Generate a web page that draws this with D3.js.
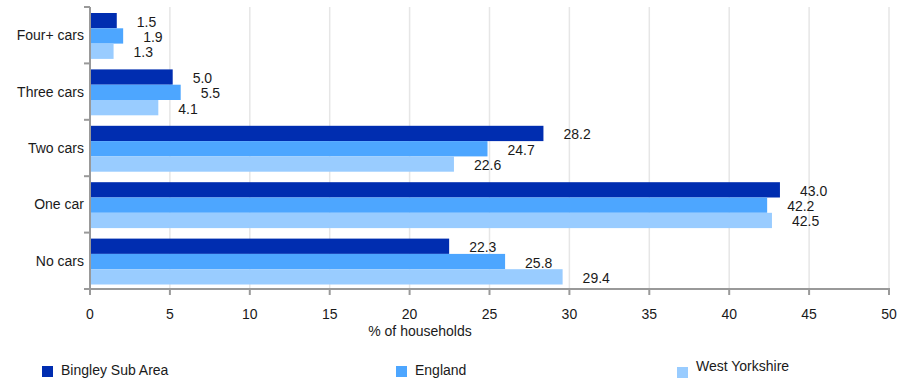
<!DOCTYPE html>
<html><head><meta charset="utf-8">
<script src="https://cdn.jsdelivr.net/npm/d3@7"></script>
<style>body{margin:0;background:#fff}svg{display:block;font-family:Arial,"Liberation Sans",sans-serif}</style>
</head><body><svg id="c" width="901" height="380"></svg>
<script>
const categories = ["Four+ cars","Three cars","Two cars","One car","No cars"];
const seriesNames = ["Bingley Sub Area","England","West Yorkshire"];
const bingley = [1.5, 5.0, 28.2, 43.0, 22.3];
const england = [1.9, 5.5, 24.7, 42.2, 25.8];
const westYorkshire = [1.3, 4.1, 22.6, 42.5, 29.4];
const xTicks = [0,5,10,15,20,25,30,35,40,45,50];
const colors = ["#002db0","#4da6ff","#99ccff"];
const seriesValues = [bingley, england, westYorkshire];

const svg = d3.select("#c");
const x = d3.scaleLinear().domain([0,50]).range([90,889]);
const xBar = d3.scaleLinear().domain([0,50]).range([92.8,891.8]);
const y = d3.scaleBand().domain(categories).range([7,289]).padding(0);
const sub = d3.scaleBand().domain(seriesNames).range([6, y.bandwidth()-4.5]).padding(0);

// gridlines
svg.append("g").selectAll("line").data(xTicks.slice(1)).join("line")
  .attr("x1",d=>x(d)).attr("x2",d=>x(d)).attr("y1",7).attr("y2",289)
  .attr("stroke","#e6e6e6").attr("stroke-width",1.5);

// bars
categories.forEach((c,i)=>{
  seriesNames.forEach((s,j)=>{
    const v = seriesValues[j][i];
    const y0 = y(c)+sub(s);
    svg.append("rect").attr("x",x(0)+1).attr("y",y0)
      .attr("width",xBar(v)-x(0)-1).attr("height",sub.bandwidth())
      .attr("fill",colors[j]);
    svg.append("text").attr("x",xBar(v)+20).attr("y",y0+sub.bandwidth()/2+6)
      .attr("font-size",14).attr("fill","#1a1a1a").text(v.toFixed(1));
  });
});

// y axis
const ya = svg.append("g");
ya.append("line").attr("x1",90).attr("x2",90).attr("y1",7).attr("y2",290)
  .attr("stroke","#999").attr("stroke-width",2);
const bounds = categories.map(c=>y(c)).concat([y.range()[1]]);
ya.selectAll("line.t").data(bounds).join("line").attr("class","t")
  .attr("x1",84).attr("x2",90).attr("y1",d=>d).attr("y2",d=>d)
  .attr("stroke","#999").attr("stroke-width",2);
ya.selectAll("text").data(categories).join("text")
  .attr("x",84).attr("y",d=>y(d)+y.bandwidth()/2+5)
  .attr("text-anchor","end").attr("font-size",14).attr("fill","#1a1a1a").text(d=>d);

// x axis
const xa = svg.append("g");
xa.append("line").attr("x1",89).attr("x2",890).attr("y1",289).attr("y2",289)
  .attr("stroke","#999").attr("stroke-width",2);
xa.selectAll("line.t").data(xTicks).join("line").attr("class","t")
  .attr("x1",d=>x(d)).attr("x2",d=>x(d)).attr("y1",289).attr("y2",295)
  .attr("stroke","#999").attr("stroke-width",2);
xa.selectAll("text").data(xTicks).join("text")
  .attr("x",d=>x(d)).attr("y",319).attr("text-anchor","middle")
  .attr("font-size",14).attr("fill","#1a1a1a").text(d=>d);
svg.append("text").attr("x",420).attr("y",336).attr("text-anchor","middle")
  .attr("font-size",14).attr("fill","#1a1a1a").text("% of households");

// legend
const legPos = [{x:42,y:366,ty:375},{x:396,y:366,ty:375},{x:677,y:367,ty:371}];
seriesNames.forEach((s,j)=>{
  const p = legPos[j];
  svg.append("rect").attr("x",p.x).attr("y",p.y).attr("width",11).attr("height",11).attr("fill",colors[j]);
  svg.append("text").attr("x",p.x+19).attr("y",p.ty).attr("font-size",14).attr("fill","#1a1a1a").text(s);
});
</script></body></html>
